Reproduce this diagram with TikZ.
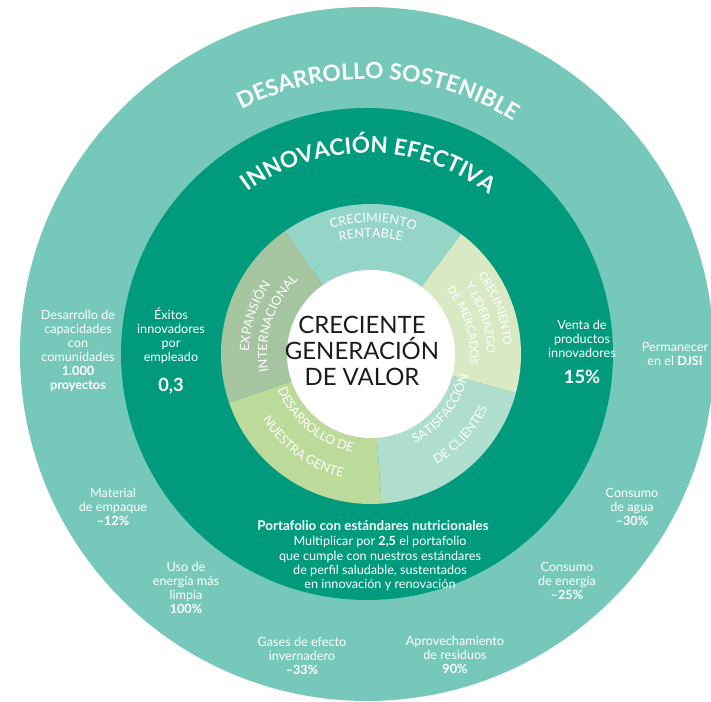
\documentclass[tikz,border=0pt]{standalone}
\usepackage{fontspec}
\setmainfont{Lato}
\usetikzlibrary{calc}
\usetikzlibrary{decorations.text}
\usepackage{xcolor}

\definecolor{outerteal}{RGB}{118,201,186}
\definecolor{darkteal}{RGB}{0,155,125}
\definecolor{wedgeA}{RGB}{149,213,200}
\definecolor{wedgeB}{RGB}{165,197,160}
\definecolor{wedgeC}{RGB}{188,218,154}
\definecolor{wedgeD}{RGB}{176,222,204}
\definecolor{wedgeE}{RGB}{217,233,196}
\definecolor{coretext}{RGB}{28,28,28}

\newcommand{\ringfont}{\fontsize{16}{16}\selectfont\bfseries\color{white}}
\newcommand{\wedgefont}{\fontsize{9}{9}\selectfont\color{white}}
\newcommand{\narrowfont}{\fontsize{8}{8}\selectfont\color{white}}

\tikzset{
 lbl/.style={text=white, align=center, inner sep=0, font=\fontsize{9}{10}\selectfont},
 ringtext/.style={decorate, decoration={text along path, text align=center, text={#1}}},
}

\begin{document}
\begin{tikzpicture}[x=0.025cm, y=0.025cm]
\useasboundingbox (0,0) rectangle (711,702);
\coordinate (C) at (367,348);
\coordinate (W) at (371,348);
% rings
\fill[outerteal] (C) circle (347);
\fill[darkteal] (C) circle (246);
\foreach \a/\b/\col in {53/125/wedgeA, 125/199/wedgeB, 199/274/wedgeC, 274/345/wedgeD, 345/413/wedgeE}
 \fill[\col] (W) -- ++(\a:150) arc[start angle=\a, end angle=\b, radius=150] -- cycle;
\fill[white] (W) circle (84);
\node[font=\fontsize{17}{18.5}\selectfont, text=coretext, align=center] (core) at (362,351) {CRECIENTE\\GENERACIÓN\\DE VALOR};

% curved titles
\path[ringtext={|\ringfont|DESARROLLO SOSTENIBLE}] ($(C)+(150:275)$) arc[start angle=150, end angle=25, radius=275];
\path[ringtext={|\ringfont|INNOVACI{Ó}N EFECTIVA}] ($(C)+(130:201)$) arc[start angle=130, end angle=49, radius=201];

% wedge texts
\path[ringtext={|\wedgefont|CRECIMIENTO}] ($(W)+(129:131.5)$) arc[start angle=129, end angle=49, radius=131.5];
\path[ringtext={|\wedgefont|RENTABLE}] ($(W)+(130:116.5)$) arc[start angle=130, end angle=50, radius=116.5];
\path[ringtext={|\wedgefont|EXPANSI{Ó}N}] ($(W)+(202:122)$) arc[start angle=202, end angle=122, radius=122];
\path[ringtext={|\wedgefont|INTERNACIONAL}] ($(W)+(202:104)$) arc[start angle=202, end angle=122, radius=104];
\path[ringtext={|\narrowfont|CRECIMIENTO}] ($(W)+(60:133)$) arc[start angle=60, end angle=-20, radius=133];
\path[ringtext={|\narrowfont|Y LIDERAZGO}] ($(W)+(58:116)$) arc[start angle=58, end angle=-22, radius=116];
\path[ringtext={|\narrowfont|DE MERCADOS}] ($(W)+(57:99)$) arc[start angle=57, end angle=-23, radius=99];
\path[ringtext={|\wedgefont|DESARROLLO DE}] ($(W)+(190:99.5)$) arc[start angle=190, end angle=270, radius=99.5];
\path[ringtext={|\wedgefont|NUESTRA GENTE}] ($(W)+(194:126.5)$) arc[start angle=194, end angle=274, radius=126.5];
\path[ringtext={|\wedgefont|SATISFACCI{Ó}N}] ($(W)+(282:99.5)$) arc[start angle=282, end angle=362, radius=99.5];
\path[ringtext={|\wedgefont|DE CLIENTES}] ($(W)+(278:128.5)$) arc[start angle=278, end angle=358, radius=128.5];

% labels
\node[lbl] (comunidades) at (78,351) {Desarrollo de\\capacidades\\con\\comunidades\\\textbf{1.000}\\\textbf{proyectos}};
\node[lbl] (exitos) at (171,351) {Éxitos\\innovadores\\por\\empleado\\[9pt]{\fontsize{13}{13}\selectfont\textbf{0,3}}};
\node[lbl] (venta) at (582,350) {Venta de\\productos\\innovadores\\[9pt]{\fontsize{13}{13}\selectfont\textbf{15\%}}};
\node[lbl] (djsi) at (675,348) {Permanecer\\en el \textbf{DJSI}};
\node[lbl] (empaque) at (113,195) {Material\\de empaque\\\textbf{–12\%}};
\node[lbl] (limpia) at (186,114) {Uso de\\energía más\\limpia\\\textbf{100\%}};
\node[lbl] (gases) at (302,46) {Gases de efecto\\invernadero\\\textbf{–33\%}};
\node[lbl] (residuos) at (455,47) {Aprovechamiento\\de residuos\\\textbf{90\%}};
\node[lbl] (energia) at (567,121) {Consumo\\de energía\\\textbf{–25\%}};
\node[lbl] (agua) at (632,195) {Consumo\\de agua\\\textbf{–30\%}};
\node[lbl, font=\fontsize{9.5}{10}\selectfont\bfseries] (portafolio) at (373,176) {Portafolio con estándares nutricionales};
\node[lbl] (multiplicar) at (380,138.5) {Multiplicar por \textbf{2,5} el portafolio\\que cumple con nuestros estándares\\de perfil saludable, sustentados\\en innovación y renovación};
\end{tikzpicture}
\end{document}
